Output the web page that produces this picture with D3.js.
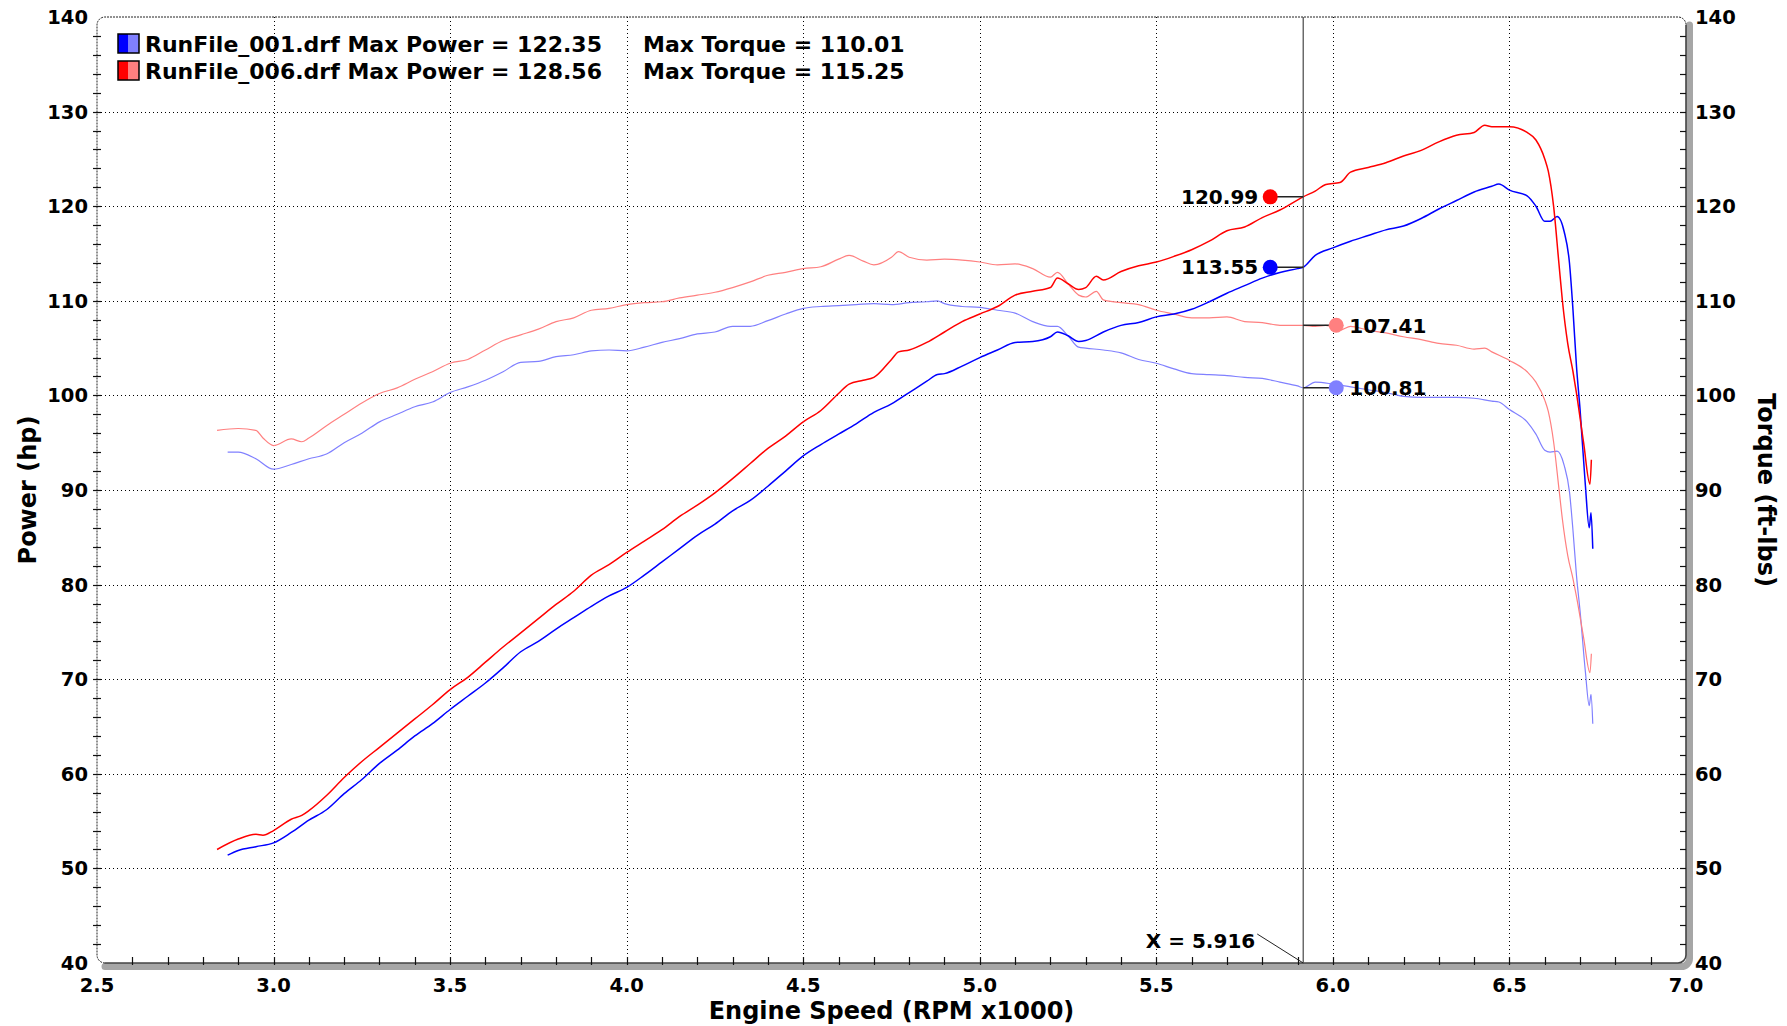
<!DOCTYPE html>
<html>
<head>
<meta charset="utf-8">
<script src="https://cdnjs.cloudflare.com/ajax/libs/d3/7.8.5/d3.min.js"></script>
<style>
body { margin: 0; background: #fff; }
text { font-family: "DejaVu Sans", Verdana, sans-serif; font-weight: bold; fill: #000; }
</style>
</head>
<body>
<script>
// dyno sheet: two runs, power (hp) and torque (ft-lbs) vs engine speed

// RunFile_001
var rpm1 = [2.87, 2.90, 2.95, 3.00, 3.05, 3.10, 3.15, 3.20, 3.25, 3.30,
  3.35, 3.40, 3.45, 3.50, 3.55, 3.60, 3.65, 3.70, 3.75, 3.80,
  3.85, 3.90, 3.95, 4.00, 4.05, 4.10, 4.15, 4.20, 4.25, 4.30,
  4.35, 4.40, 4.45, 4.50, 4.55, 4.60, 4.65, 4.70, 4.75, 4.80,
  4.85, 4.88, 4.90, 4.95, 5.00, 5.05, 5.10, 5.15, 5.20, 5.22,
  5.25, 5.28, 5.30, 5.35, 5.40, 5.45, 5.50, 5.55, 5.60, 5.65,
  5.70, 5.75, 5.80, 5.85, 5.90, 5.916, 5.95, 6.00, 6.05, 6.10,
  6.15, 6.20, 6.25, 6.30, 6.35, 6.40, 6.45, 6.47, 6.50, 6.55,
  6.575, 6.60, 6.615, 6.635, 6.655, 6.67, 6.68, 6.69, 6.70, 6.715,
  6.726, 6.731, 6.736];
var power1 = [51.4, 51.9, 52.3, 52.7, 53.8, 55.1, 56.2, 57.9, 59.4, 61.1,
  62.5, 64.0, 65.3, 66.8, 68.2, 69.6, 71.2, 72.9, 74.0, 75.3,
  76.5, 77.7, 78.8, 79.7, 81.0, 82.4, 83.8, 85.2, 86.4, 87.8,
  88.9, 90.4, 92.0, 93.6, 94.8, 95.9, 97.0, 98.2, 99.1, 100.3,
  101.5, 102.2, 102.3, 103.1, 104.0, 104.8, 105.6, 105.7, 106.2, 106.7,
  106.3, 105.7, 105.8, 106.7, 107.4, 107.7, 108.3, 108.6, 109.1, 109.9,
  110.8, 111.6, 112.4, 113.0, 113.4, 113.55, 114.8, 115.6, 116.3, 116.9,
  117.5, 117.9, 118.7, 119.7, 120.6, 121.5, 122.1, 122.35, 121.7, 121.1,
  120.0, 118.4, 118.4, 118.9, 117.3, 114.0, 109.0, 103.0, 98.5, 90.5,
  86.0, 87.6, 83.8];
var torque1 = [94.0, 94.0, 93.3, 92.2, 92.7, 93.3, 93.8, 95.0, 96.0, 97.2,
  98.0, 98.8, 99.3, 100.3, 100.9, 101.6, 102.5, 103.5, 103.6, 104.1,
  104.3, 104.7, 104.8, 104.7, 105.1, 105.6, 106.0, 106.5, 106.7, 107.3,
  107.3, 107.9, 108.6, 109.2, 109.4, 109.5, 109.6, 109.7, 109.6, 109.8,
  109.9, 110.0, 109.7, 109.4, 109.3, 109.0, 108.7, 107.8, 107.3, 107.3,
  106.3, 105.1, 105.0, 104.8, 104.5, 103.8, 103.4, 102.8, 102.3, 102.2,
  102.1, 101.9, 101.8, 101.4, 101.0, 100.81, 101.4, 101.2, 100.9, 100.6,
  100.3, 99.9, 99.8, 99.8, 99.8, 99.7, 99.4, 99.3, 98.5, 97.2,
  95.9, 94.2, 94.0, 94.1, 92.6, 89.8, 85.7, 80.9, 77.2, 70.8,
  67.2, 68.4, 65.3];

// RunFile_006
var rpm2 = [2.84, 2.90, 2.95, 2.97, 3.00, 3.05, 3.08, 3.10, 3.15, 3.20,
  3.25, 3.30, 3.35, 3.40, 3.45, 3.50, 3.55, 3.60, 3.65, 3.70,
  3.75, 3.80, 3.85, 3.90, 3.95, 4.00, 4.05, 4.10, 4.15, 4.20,
  4.25, 4.30, 4.35, 4.40, 4.45, 4.50, 4.55, 4.60, 4.63, 4.67,
  4.70, 4.75, 4.77, 4.80, 4.85, 4.90, 4.95, 5.00, 5.05, 5.10,
  5.15, 5.20, 5.22, 5.25, 5.28, 5.30, 5.33, 5.35, 5.40, 5.45,
  5.50, 5.55, 5.60, 5.65, 5.70, 5.75, 5.80, 5.85, 5.916, 5.95,
  5.98, 6.02, 6.05, 6.10, 6.15, 6.20, 6.25, 6.30, 6.35, 6.40, 6.43,
  6.45, 6.50, 6.55, 6.575, 6.60, 6.61, 6.625, 6.64, 6.65, 6.665,
  6.68, 6.69, 6.71, 6.728, 6.732];
var power2 = [52.0, 53.1, 53.6, 53.5, 54.0, 55.2, 55.6, 56.1, 57.7, 59.6,
  61.3, 62.8, 64.3, 65.8, 67.3, 68.9, 70.2, 71.8, 73.4, 74.9,
  76.4, 77.9, 79.3, 81.0, 82.1, 83.4, 84.6, 85.8, 87.2, 88.4,
  89.7, 91.2, 92.8, 94.4, 95.7, 97.2, 98.4, 100.2, 101.2, 101.6,
  101.9, 103.8, 104.6, 104.8, 105.6, 106.7, 107.8, 108.6, 109.4, 110.6,
  111.0, 111.4, 112.4, 111.8, 111.2, 111.4, 112.6, 112.2, 113.1, 113.7,
  114.1, 114.7, 115.4, 116.3, 117.4, 117.8, 118.8, 119.6, 120.99, 121.6,
  122.3, 122.5, 123.6, 124.1, 124.6, 125.3, 125.9, 126.8, 127.5, 127.8, 128.56,
  128.4, 128.4, 127.8, 127.0, 125.0, 123.7, 120.0, 114.0, 110.0, 105.5,
  102.5, 100.2, 95.0, 90.6, 93.2];
var torque2 = [96.3, 96.5, 96.3, 95.5, 94.7, 95.4, 95.1, 95.5, 96.8, 98.0,
  99.2, 100.2, 100.8, 101.7, 102.5, 103.4, 103.8, 104.8, 105.8, 106.4,
  107.0, 107.8, 108.2, 109.0, 109.2, 109.6, 109.8, 109.9, 110.3, 110.6,
  110.9, 111.4, 112.0, 112.7, 113.0, 113.4, 113.6, 114.4, 114.8, 114.2,
  113.8, 114.6, 115.2, 114.6, 114.3, 114.4, 114.3, 114.1, 113.8, 113.9,
  113.4, 112.5, 113.0, 111.8, 110.6, 110.4, 111.0, 110.1, 109.8, 109.6,
  109.0, 108.6, 108.2, 108.2, 108.3, 107.8, 107.7, 107.4, 107.41, 107.3,
  107.4, 106.9, 107.3, 106.9, 106.6, 106.2, 105.9, 105.5, 105.3, 104.9, 105.0,
  104.6, 103.7, 102.5, 101.4, 99.5, 98.3, 95.1, 90.2, 86.9, 83.1,
  80.6, 78.7, 74.4, 70.7, 72.7];

var xTicks = [2.5, 3.0, 3.5, 4.0, 4.5, 5.0, 5.5, 6.0, 6.5, 7.0];
var yTicks = [40, 50, 60, 70, 80, 90, 100, 110, 120, 130, 140];
var runNames = ["RunFile_001.drf", "RunFile_006.drf"];
var maxPower = ["122.35", "128.56"];
var maxTorque = ["110.01", "115.25"];
var cursorX = 5.916;
var cursorPower = [113.55, 120.99];
var cursorTorque = [100.81, 107.41];
var powerColors = ["#0000ff", "#ff0000"];
var torqueColors = ["#8080ff", "#ff8080"];

var w = 1787, h = 1026;
var pLeft = 97, pRight = 1686, pTop = 17, pBottom = 963, rad = 8;

var svg = d3.select('body').append('svg').attr('width', w).attr('height', h);

var x = d3.scaleLinear().domain([2.5, 7.0]).range([pLeft, pRight]);
var y = d3.scaleLinear().domain([40, 140]).range([pBottom, pTop]);

// dotted grid
var grid = svg.append('g').attr('stroke', '#000').attr('stroke-width', 1)
  .attr('stroke-dasharray', '1,3');
grid.selectAll('line.gx').data(xTicks.slice(1, -1)).enter().append('line')
  .attr('x1', function(d){ return Math.round(x(d)) + 0.5; })
  .attr('x2', function(d){ return Math.round(x(d)) + 0.5; })
  .attr('y1', pTop).attr('y2', pBottom);
grid.selectAll('line.gy').data(yTicks.slice(1, -1)).enter().append('line')
  .attr('y1', function(d){ return Math.round(y(d)) + 0.5; })
  .attr('y2', function(d){ return Math.round(y(d)) + 0.5; })
  .attr('x1', pLeft).attr('x2', pRight);

// gray shadow under bottom / right axes
var s = 3.5;
svg.append('path')
  .attr('d', 'M' + (pLeft + rad) + ',' + (pBottom + s) +
    ' L' + (pRight - rad + s) + ',' + (pBottom + s) +
    ' A' + rad + ',' + rad + ' 0 0 0 ' + (pRight + s) + ',' + (pBottom - rad + s) +
    ' L' + (pRight + s) + ',' + (pTop + rad))
  .attr('fill', 'none').attr('stroke', '#a6a6a6').attr('stroke-width', 7)
  .attr('stroke-linecap', 'round');

// frame: top + left dotted, bottom + right solid, rounded corners
svg.append('path')
  .attr('d', 'M' + (pLeft + rad) + ',' + pBottom +
    ' A' + rad + ',' + rad + ' 0 0 1 ' + pLeft + ',' + (pBottom - rad) +
    ' L' + pLeft + ',' + (pTop + rad) +
    ' A' + rad + ',' + rad + ' 0 0 1 ' + (pLeft + rad) + ',' + pTop +
    ' L' + (pRight - rad) + ',' + pTop +
    ' A' + rad + ',' + rad + ' 0 0 1 ' + pRight + ',' + (pTop + rad))
  .attr('fill', 'none').attr('stroke', '#222').attr('stroke-width', 1)
  .attr('stroke-dasharray', '2,1');
svg.append('path')
  .attr('d', 'M' + (pLeft + rad) + ',' + pBottom +
    ' L' + (pRight - rad) + ',' + pBottom +
    ' A' + rad + ',' + rad + ' 0 0 0 ' + pRight + ',' + (pBottom - rad) +
    ' L' + pRight + ',' + (pTop + rad))
  .attr('fill', 'none').attr('stroke', '#444').attr('stroke-width', 1.6);

// ticks
var ticks = svg.append('g').attr('stroke', '#111').attr('stroke-width', 1.2);
var yMinor = d3.range(42, 140, 2);
ticks.selectAll('line.ly').data(yMinor).enter().append('line')
  .attr('x1', pLeft - 4).attr('x2', pLeft + 4)
  .attr('y1', function(d){ return Math.round(y(d)) + 0.5; })
  .attr('y2', function(d){ return Math.round(y(d)) + 0.5; });
ticks.selectAll('line.ry').data(yMinor).enter().append('line')
  .attr('x1', pRight - 6).attr('x2', pRight)
  .attr('y1', function(d){ return Math.round(y(d)) + 0.5; })
  .attr('y2', function(d){ return Math.round(y(d)) + 0.5; });
var xMinor = d3.range(26, 70).map(function(d){ return d / 10; });
ticks.selectAll('line.bx').data(xMinor).enter().append('line')
  .attr('x1', function(d){ return Math.round(x(d)) + 0.5; })
  .attr('x2', function(d){ return Math.round(x(d)) + 0.5; })
  .attr('y1', pBottom - 6).attr('y2', pBottom + 2);

// tick labels
svg.selectAll('text.yl').data(yTicks).enter().append('text')
  .attr('x', pLeft - 9).attr('y', function(d){ return y(d); }).attr('dy', '0.36em')
  .attr('text-anchor', 'end').style('font-size', '19.5px').text(function(d){ return d; });
svg.selectAll('text.yr').data(yTicks).enter().append('text')
  .attr('x', pRight + 9).attr('y', function(d){ return y(d); }).attr('dy', '0.36em')
  .attr('text-anchor', 'start').style('font-size', '19.5px').text(function(d){ return d; });
svg.selectAll('text.xl').data(xTicks).enter().append('text')
  .attr('x', function(d){ return x(d); }).attr('y', 992)
  .attr('text-anchor', 'middle').style('font-size', '19.5px').text(function(d){ return d.toFixed(1); });

// axis titles
svg.append('text').attr('transform', 'translate(36,490) rotate(-90)')
  .attr('text-anchor', 'middle').style('font-size', '24px').text('Power (hp)');
svg.append('text').attr('transform', 'translate(1758,490) rotate(90)')
  .attr('text-anchor', 'middle').style('font-size', '24px').text('Torque (ft-lbs)');
svg.append('text').attr('x', (pLeft + pRight) / 2).attr('y', 1019)
  .attr('text-anchor', 'middle').style('font-size', '24px').text('Engine Speed (RPM x1000)');

// curves
var runs = [
  { rpm: rpm1, power: power1, torque: torque1 },
  { rpm: rpm2, power: power2, torque: torque2 }
];
var line = d3.line()
  .x(function(d){ return x(d[0]); })
  .y(function(d){ return y(d[1]); })
  .curve(d3.curveMonotoneX);

runs.forEach(function(r, i){
  svg.append('path').datum(d3.zip(r.rpm, r.torque)).attr('d', line)
    .attr('fill', 'none').attr('stroke', torqueColors[i]).attr('stroke-width', 1.2);
});
runs.forEach(function(r, i){
  svg.append('path').datum(d3.zip(r.rpm, r.power)).attr('d', line)
    .attr('fill', 'none').attr('stroke', powerColors[i]).attr('stroke-width', 1.5);
});

// cursor
var cx = x(cursorX);
svg.append('line').attr('x1', cx).attr('x2', cx).attr('y1', pTop).attr('y2', pBottom)
  .attr('stroke', '#555').attr('stroke-width', 1.3);
svg.append('line').attr('x1', cx - 46).attr('y1', 934).attr('x2', cx).attr('y2', pBottom)
  .attr('stroke', '#222').attr('stroke-width', 1);
svg.append('text').attr('x', cx - 48).attr('y', 948).attr('text-anchor', 'end')
  .style('font-size', '20px').text('X = ' + cursorX.toFixed(3));

var off = 33;
[0, 1].forEach(function(i){
  var py = y(cursorPower[i]);
  svg.append('line').attr('x1', cx - off).attr('x2', cx).attr('y1', py).attr('y2', py)
    .attr('stroke', '#222').attr('stroke-width', 1.5);
  svg.append('circle').attr('cx', cx - off).attr('cy', py).attr('r', 7.5).attr('fill', powerColors[i]);
  svg.append('text').attr('x', cx - off - 12).attr('y', py).attr('dy', '0.36em')
    .attr('text-anchor', 'end').style('font-size', '20px').text(cursorPower[i].toFixed(2));

  var ty = y(cursorTorque[i]);
  svg.append('line').attr('x1', cx).attr('x2', cx + off).attr('y1', ty).attr('y2', ty)
    .attr('stroke', '#222').attr('stroke-width', 1.5);
  svg.append('circle').attr('cx', cx + off).attr('cy', ty).attr('r', 7.5).attr('fill', torqueColors[i]);
  svg.append('text').attr('x', cx + off + 13).attr('y', ty).attr('dy', '0.36em')
    .attr('text-anchor', 'start').style('font-size', '20px').text(cursorTorque[i].toFixed(2));
});

// legend
[0, 1].forEach(function(i){
  var ly = 34 + i * 27;
  svg.append('rect').attr('x', 118).attr('y', ly).attr('width', 10.5).attr('height', 19)
    .attr('fill', powerColors[i]);
  svg.append('rect').attr('x', 128.5).attr('y', ly).attr('width', 10.5).attr('height', 19)
    .attr('fill', torqueColors[i]);
  svg.append('rect').attr('x', 118).attr('y', ly).attr('width', 21).attr('height', 19)
    .attr('fill', 'none').attr('stroke', '#000').attr('stroke-width', 1.5);
  svg.append('text').attr('x', 145).attr('y', ly + 18).style('font-size', '22px')
    .text(runNames[i] + ' Max Power = ' + maxPower[i]);
  svg.append('text').attr('x', 643).attr('y', ly + 18).style('font-size', '22px')
    .text('Max Torque = ' + maxTorque[i]);
});
</script>
</body>
</html>
